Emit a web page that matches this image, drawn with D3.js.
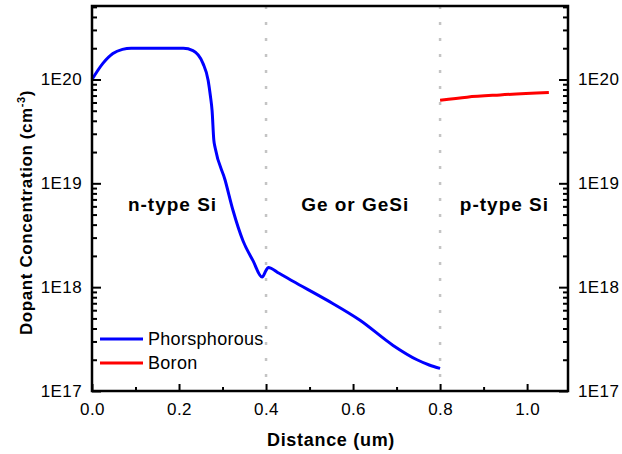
<!DOCTYPE html>
<html>
<head>
<meta charset="utf-8">
<script src="https://cdn.jsdelivr.net/npm/d3@7"></script>
<style>
  html, body { margin: 0; padding: 0; background: #fff; }
  svg { display: block; font-family: "Liberation Sans", Arial, sans-serif; }
</style>
</head>
<body>
<svg id="chart" width="622" height="454"></svg>
<script>
// ---- data ----
const phosX = [0, 0.025, 0.048, 0.07, 0.09, 0.21, 0.232, 0.255, 0.267, 0.272, 0.276, 0.280, 0.283, 0.306, 0.324, 0.347, 0.370, 0.391, 0.400, 0.405, 0.430, 0.462, 0.540, 0.616, 0.692, 0.747, 0.775, 0.800];
const phosY = [1.0e20, 1.43e20, 1.78e20, 1.95e20, 2.0e20, 2.0e20, 1.9e20, 1.43e20, 9.8e19, 7.0e19, 5.0e19, 2.6e19, 2.2e19, 1.07e19, 5.5e18, 2.8e18, 1.8e18, 1.25e18, 1.45e18, 1.55e18, 1.36e18, 1.14e18, 7.5e17, 4.8e17, 2.75e17, 2.0e17, 1.78e17, 1.65e17];
const boronX = [0.8, 0.862, 0.938, 1.05];
const boronY = [6.3e19, 6.76e19, 7.1e19, 7.5e19];
const xMajorTicks = [0, 0.2, 0.4, 0.6, 0.8, 1.0];
const xMinorTicks = [0.1, 0.3, 0.5, 0.7, 0.9];
const yMajorTicks = [1e17, 1e18, 1e19, 1e20];
const yTickLabels = ["1E17", "1E18", "1E19", "1E20"];
const regionDividers = [0.4, 0.8];
const regionLabels = ["n-type Si", "Ge or GeSi", "p-type Si"];
const regionLabelX = [0.185, 0.605, 0.948];
const regionLabelY = [5.4e18, 5.4e18, 5.4e18];
const seriesNames = ["Phorsphorous", "Boron"];
const seriesColors = ["#0000ff", "#ff0000"];

// ---- layout ----
const svg = d3.select("#chart");
const L = 92, R = 568, T = 6, B = 391;
const x = d3.scaleLinear().domain([0, 1.094]).range([L, R]);
const y = d3.scaleLog().domain([1e17, 5.1e20]).range([B, T]);

const yMinor = [];
for (let e = 17; e <= 20; e++) for (let m = 2; m <= 9; m++) {
  const v = m * Math.pow(10, e);
  if (v <= 5.1e20) yMinor.push(v);
}

// divider lines
svg.append("g").selectAll("line").data(regionDividers).join("line")
  .attr("x1", d => x(d)).attr("x2", d => x(d))
  .attr("y1", T).attr("y2", B)
  .attr("stroke", "#c4c4c4").attr("stroke-width", 2.5)
  .attr("stroke-dasharray", "3,13");

// series
const line = d3.line().x(d => x(d[0])).y(d => y(d[1])).curve(d3.curveMonotoneX);
svg.append("path").datum(d3.zip(phosX, phosY)).attr("d", line)
  .attr("fill", "none").attr("stroke", seriesColors[0]).attr("stroke-width", 3).attr("stroke-linejoin", "round");
svg.append("path").datum(d3.zip(boronX, boronY)).attr("d", line)
  .attr("fill", "none").attr("stroke", seriesColors[1]).attr("stroke-width", 3);

// axes
function style(g) {
  g.select(".domain").remove();
  g.selectAll("line").attr("stroke", "#000").attr("stroke-width", 2);
  g.selectAll("text").attr("font-size", 17).attr("letter-spacing", 0.4).attr("fill", "#000").attr("font-family", "Liberation Sans, Arial, sans-serif");
}
svg.append("g").attr("transform", `translate(0,${B})`)
  .call(d3.axisBottom(x).tickValues(xMajorTicks).tickFormat(d3.format(".1f")).tickSizeInner(-7).tickSizeOuter(0).tickPadding(12))
  .call(style);
svg.append("g").attr("transform", `translate(0,${B})`)
  .call(d3.axisBottom(x).tickValues(xMinorTicks).tickFormat("").tickSizeInner(-4).tickSizeOuter(0))
  .call(style);
svg.append("g").attr("transform", `translate(${L},0)`)
  .call(d3.axisLeft(y).tickValues(yMajorTicks).tickFormat((d, i) => yTickLabels[i]).tickSizeInner(-9).tickSizeOuter(0).tickPadding(10))
  .call(style);
svg.append("g").attr("transform", `translate(${L},0)`)
  .call(d3.axisLeft(y).tickValues(yMinor).tickFormat("").tickSizeInner(-5).tickSizeOuter(0))
  .call(style);
svg.append("g").attr("transform", `translate(${R},0)`)
  .call(d3.axisRight(y).tickValues(yMajorTicks).tickFormat((d, i) => yTickLabels[i]).tickSizeInner(-9).tickSizeOuter(0).tickPadding(10))
  .call(style);
svg.append("g").attr("transform", `translate(${R},0)`)
  .call(d3.axisRight(y).tickValues(yMinor).tickFormat("").tickSizeInner(-5).tickSizeOuter(0))
  .call(style);

// frame
svg.append("rect").attr("x", L).attr("y", T).attr("width", R - L).attr("height", B - T)
  .attr("fill", "none").attr("stroke", "#000").attr("stroke-width", 2.5);

// region labels
svg.append("g").selectAll("text").data(regionLabels).join("text")
  .attr("x", (d, i) => x(regionLabelX[i])).attr("y", (d, i) => y(regionLabelY[i]))
  .attr("text-anchor", "middle").attr("font-weight", "bold").attr("font-size", 19)
  .attr("letter-spacing", 1).text(d => d);

// legend
const lg = svg.append("g");
seriesNames.forEach((n, i) => {
  const yy = 339 + i * 24;
  lg.append("line").attr("x1", 100).attr("x2", 143).attr("y1", yy).attr("y2", yy)
    .attr("stroke", seriesColors[i]).attr("stroke-width", 3);
  lg.append("text").attr("x", 148).attr("y", yy + 6).attr("font-size", 18).attr("letter-spacing", 0.3).text(n);
});

// axis titles
svg.append("text").attr("x", (L + R) / 2 + 1).attr("y", 446).attr("text-anchor", "middle")
  .attr("font-weight", "bold").attr("font-size", 18).attr("letter-spacing", 0.7).text("Distance (um)");
const yt = svg.append("text").attr("transform", `translate(32,${(T + B) / 2 + 14}) rotate(-90)`)
  .attr("text-anchor", "middle").attr("font-weight", "bold").attr("font-size", 17).attr("letter-spacing", 0.6);
yt.append("tspan").text("Dopant Concentration (cm");
yt.append("tspan").attr("dy", -7).attr("font-size", 11).text("-3");
yt.append("tspan").attr("dy", 7).text(")");
</script>
</body>
</html>
